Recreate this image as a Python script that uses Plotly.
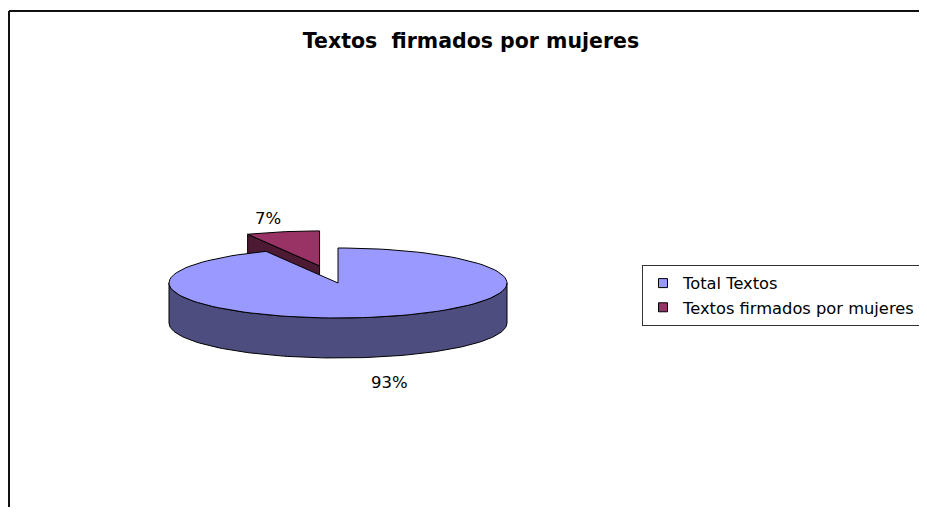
import numpy as np
import plotly.graph_objects as go

# datos del grafico
categorias = ["Total Textos", "Textos firmados por mujeres"]
valores = [93, 7]
titulo = "Textos  firmados por mujeres"

# estilos (colores cara superior / lateral)
col_sup = ["#9999FF", "#993366"]
col_lat = ["#4D4D80", "#4D1A33"]
separado = [0.0, 0.5]   # explosion de cada porcion

# la pagina tiene margen de 8px en el body: se descuenta
PAD = 8
W, H = 927 - 2 * PAD, 515 - 2 * PAD
FUENTE = "DejaVu Sans"

# geometria de la torta 3D (en pixeles de pantalla)
cx, cy = 338, 283
rx, ry = 169, 35
prof = 40


def punto(t, dz=0, off=(0, 0)):
    r = np.radians(t)
    return cx + off[0] + rx * np.cos(r), cy + off[1] - ry * np.sin(r) + dz


def arco(a, b, dz=0, off=(0, 0), n=120):
    ts = np.linspace(a, b, n)
    xs, ys = punto(ts, dz, off)
    return list(xs), list(ys)


def poligono(xs, ys, color):
    return go.Scatter(x=xs + [xs[0]], y=ys + [ys[0]], mode="lines", fill="toself",
                      fillcolor=color, line=dict(color="black", width=1),
                      hoverinfo="skip", showlegend=False)


total = sum(valores)
porciones = []
ang = 90.0
for i, v in enumerate(valores):
    barrido = 360.0 * v / total
    hi, lo = ang, ang - barrido   # sentido horario desde las 12
    medio = (hi + lo) / 2
    m = np.radians(medio)
    off = (separado[i] * rx * np.cos(m), -separado[i] * ry * np.sin(m))
    porciones.append(dict(i=i, lo=lo, hi=hi, medio=medio, off=off))
    ang = lo

fig = go.Figure()

# primero las del fondo
for p in sorted(porciones, key=lambda p: -np.sin(np.radians(p["medio"]))):
    i, lo, hi, off = p["i"], p["lo"], p["hi"], p["off"]
    c0 = (cx + off[0], cy + off[1])
    # caras de corte visibles
    for t, visible in ((hi, np.cos(np.radians(hi)) < -1e-6), (lo, np.cos(np.radians(lo)) > 1e-6)):
        if visible:
            bx, by = punto(t, 0, off)
            bx2, by2 = punto(t, prof, off)
            fig.add_trace(poligono([c0[0], bx, bx2, c0[0]], [c0[1], by, by2, c0[1] + prof], col_lat[i]))
    # lateral exterior (mitad frontal)
    for k in range(-2, 2):
        a = max(lo, -180 + 360 * k)
        b = min(hi, 0 + 360 * k)
        if b > a:
            xs, ys = arco(a, b, 0, off)
            xb, yb = arco(b, a, prof, off)
            fig.add_trace(poligono(xs + xb, ys + yb, col_lat[i]))
    # cara superior
    xs, ys = arco(hi, lo, 0, off)
    fig.add_trace(poligono([c0[0]] + xs, [c0[1]] + ys, col_sup[i]))

    # etiqueta de porcentaje
    m = np.radians(p["medio"])
    lx = c0[0] + 1.4 * rx * np.cos(m)
    ly = c0[1] - 1.4 * ry * np.sin(m)
    abajo = np.sin(m) < 0
    if abajo:
        ly += prof
    fig.add_annotation(x=lx, y=ly, text=f"{round(100 * valores[i] / total)}%",
                       showarrow=False, xanchor="center",
                       yanchor="top" if abajo else "middle",
                       font=dict(family=FUENTE, size=16.5, color="black"))

# entradas de leyenda
for i, nombre in enumerate(categorias):
    fig.add_trace(go.Scatter(x=[None], y=[None], mode="markers", name=nombre,
                             marker=dict(symbol="square", size=9, color=col_sup[i],
                                         line=dict(color="black", width=1))))

# marco del area del grafico
fig.add_shape(type="line", x0=9, y0=11, x1=2000, y1=11, line=dict(color="#111111", width=2))
fig.add_shape(type="line", x0=9, y0=11, x1=9, y1=2000, line=dict(color="#111111", width=2))

fig.update_layout(
    width=W, height=H,
    margin=dict(l=0, r=0, t=0, b=0, autoexpand=False),
    paper_bgcolor="white", plot_bgcolor="white",
    title=dict(text=titulo, x=(471 - PAD) / W, xanchor="center",
               y=1 - (41 - PAD) / H, yanchor="middle",
               font=dict(family=FUENTE, size=20.5, weight="bold", color="black")),
    xaxis=dict(range=[PAD, PAD + W], visible=False, fixedrange=True),
    yaxis=dict(range=[PAD + H, PAD], visible=False, fixedrange=True),
    legend=dict(x=(642 - PAD) / W, y=1 - (265 - PAD) / H, xanchor="left", yanchor="top",
                bgcolor="white", bordercolor="#333333", borderwidth=1,
                font=dict(family=FUENTE, size=16.3, color="black"),
                itemwidth=30, tracegroupgap=0),
    showlegend=True,
)

fig.write_html("out.html")
